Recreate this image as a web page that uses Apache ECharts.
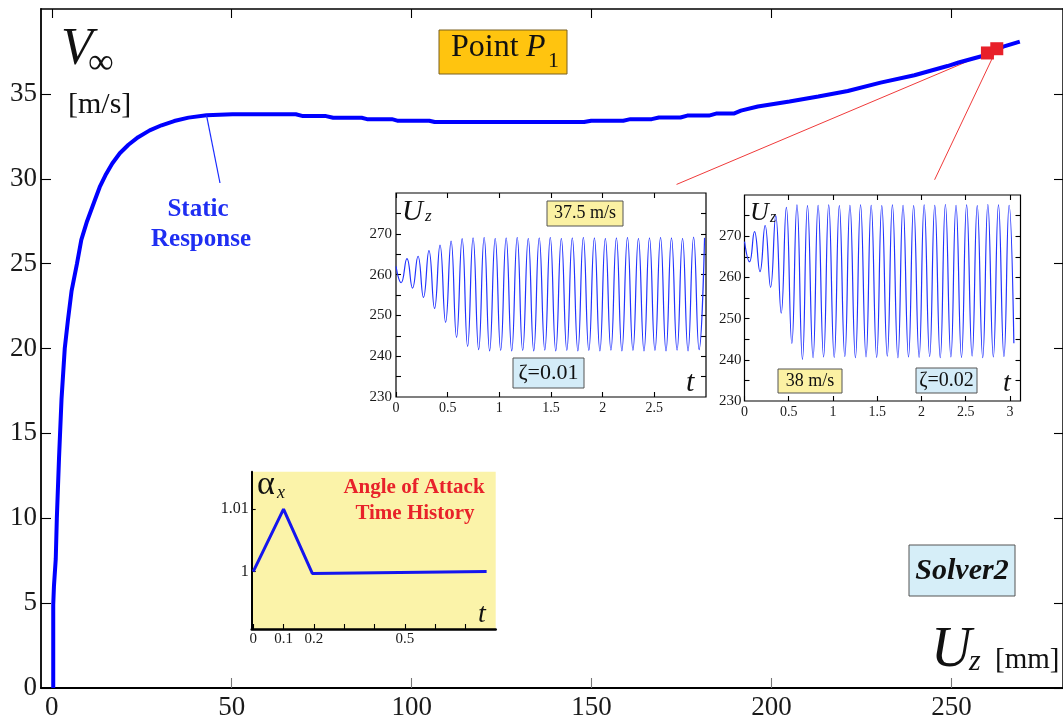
<!DOCTYPE html>
<html>
<head>
<meta charset="utf-8">
<script src="https://cdn.jsdelivr.net/npm/echarts@6/dist/echarts.min.js"></script>
<style>
  html, body { margin: 0; padding: 0; background: #fff; }
  #chart { width: 1063px; height: 721px; }
</style>
</head>
<body>
<div id="chart"></div>
<script>
// ---- Static response: free-stream speed vs. tip displacement ----
const uzMain = [0.4, 0.4, 0.6, 1.1, 1.4, 2.0, 2.7, 3.6, 4.5, 5.5, 7.0, 8.2, 9.8, 11.9, 13.3, 14.9, 16.8, 18.9, 21.3, 24.0,
  27.2, 30.5, 34.0, 38.0, 43.0, 50.2,
  67.8, 69.8, 76.2, 78.2, 86.1, 87.6, 94.5, 96.0, 104.9, 106.4, 147.9, 149.9, 158.8, 160.8, 166.7, 168.7, 174.7, 176.6,
  182.6, 184.6, 189.5, 191.5, 196.2, 205.0, 213.0, 221.2, 230.3, 239.7, 248.9, 252.0, 258.1, 264.4, 269.0];
const vMain = [0, 4.9, 6.0, 7.6, 10.0, 13.5, 17.0, 20.0, 21.7, 23.4, 25.0, 26.4, 27.5, 28.7, 29.5, 30.2, 30.9, 31.5, 32.0, 32.45,
  32.85, 33.15, 33.4, 33.6, 33.74, 33.8,
  33.8, 33.69, 33.69, 33.59, 33.59, 33.51, 33.51, 33.42, 33.42, 33.34, 33.34, 33.42, 33.42, 33.51, 33.51, 33.61, 33.61, 33.72,
  33.72, 33.84, 33.84, 34.01, 34.26, 34.55, 34.85, 35.17, 35.66, 36.1, 36.64, 36.85, 37.2, 37.78, 38.08];

// Point P1 samples (37.5 m/s and 38 m/s)
const markerUz = [260.0, 262.6];
const markerV = [37.41, 37.66];

const uzTicks = [0, 50, 100, 150, 200, 250];
const vTicks = [0, 5, 10, 15, 20, 25, 30, 35];

// ---- Dynamic response, 37.5 m/s, zeta = 0.01 (successive extrema) ----
const tDynA = [0, 0.050, 0.106, 0.160, 0.213, 0.266, 0.319, 0.373, 0.426, 0.480, 0.533, 0.586, 0.640, 0.693, 0.746, 0.800,
  0.853, 0.906, 0.960, 1.013, 1.066, 1.120, 1.173, 1.226, 1.280, 1.333, 1.386, 1.440, 1.493, 1.546, 1.600, 1.653, 1.706,
  1.760, 1.813, 1.866, 1.920, 1.973, 2.026, 2.080, 2.133, 2.186, 2.240, 2.293, 2.346, 2.400, 2.453, 2.506, 2.560, 2.613,
  2.666, 2.720, 2.773, 2.826, 2.880, 2.933, 2.986];
const uzDynA = [262.0, 258.0, 263.9, 256.7, 264.5, 254.4, 265.9, 251.7, 267.2, 248.3, 268.2, 244.6, 268.8, 242.4, 269.0, 241.6,
  269.1, 241.3, 268.9, 241.4, 269.0, 241.3, 269.1, 241.4, 268.9, 241.3, 269.0, 241.5, 269.1, 241.3, 268.9, 241.4, 269.0,
  241.3, 269.1, 241.4, 269.0, 241.3, 268.9, 241.5, 269.0, 241.3, 269.1, 241.4, 268.9, 241.3, 269.0, 241.4, 269.1, 241.3,
  269.0, 241.5, 268.9, 241.3, 269.2, 241.6, 269.0];

// ---- Dynamic response, 38 m/s, zeta = 0.02 (successive extrema) ----
const tDynB = [0, 0.057, 0.113, 0.175, 0.233, 0.295, 0.353, 0.415, 0.473, 0.535, 0.593, 0.655, 0.712, 0.775, 0.832, 0.894,
  0.952, 1.014, 1.072, 1.134, 1.192, 1.254, 1.312, 1.374, 1.432, 1.494, 1.552, 1.614, 1.672, 1.734, 1.792, 1.854, 1.912,
  1.974, 2.031, 2.093, 2.151, 2.213, 2.271, 2.333, 2.391, 2.453, 2.511, 2.573, 2.631, 2.693, 2.751, 2.813, 2.871, 2.933,
  2.991, 3.045];
const uzDynB = [268.7, 263.8, 271.1, 261.4, 272.6, 257.6, 275.0, 251.3, 277.0, 244.0, 277.6, 240.1, 277.4, 240.5, 277.5, 240.7,
  277.6, 240.6, 277.4, 240.8, 277.5, 240.5, 277.6, 240.7, 277.5, 240.6, 277.4, 240.9, 277.6, 240.5, 277.5, 240.7, 277.4,
  240.6, 277.6, 240.8, 277.5, 240.5, 277.7, 240.7, 277.5, 240.6, 277.6, 240.9, 277.4, 240.5, 277.7, 240.7, 277.6, 240.8,
  277.5, 244.0];

const dynYTicks = [235, 240, 245, 250, 255, 260, 265, 270, 275];
const dynYLabels = [230, 240, 250, 260, 270];
const dynXLabelsA = [0, 0.5, 1, 1.5, 2, 2.5];
const dynXLabelsB = [0, 0.5, 1, 1.5, 2, 2.5, 3];

// ---- Angle of attack time history ----
const tAlpha = [0, 0.1, 0.195, 0.77];
const alphaX = [1.0, 1.01, 0.9997, 1.0];
const alphaTTicks = [0, 0.1, 0.2, 0.3, 0.4, 0.5, 0.6, 0.7];
const alphaTLabels = [0, 0.1, 0.2, 0.5];
const alphaYLabels = [1, 1.01];

const SERIF = '"Liberation Serif", "DejaVu Serif", serif';
const zip = (a, b) => a.map((v, i) => [v, b[i]]);

function frameAxis(gridIndex, position, min, max, ticks, tickLen, tickColor, labels, labelSize, margin, lineWidth) {
  return {
    gridIndex, type: 'value', min, max, position,
    axisLine: { show: lineWidth > 0, onZero: false, lineStyle: { color: '#000', width: lineWidth || 1 } },
    axisTick: { show: true, inside: true, length: tickLen, customValues: ticks, lineStyle: { color: tickColor, width: 1.1 } },
    axisLabel: labels
      ? { show: true, customValues: labels, fontSize: labelSize, fontFamily: SERIF, color: '#1a1a1a', margin }
      : { show: false },
    splitLine: { show: false }
  };
}

function txt(x, y, text, font, fill, align) {
  return { type: 'text', x, y, z: 20, silent: true,
    style: { text, font, fill: fill || '#111', align: align || 'left', verticalAlign: 'middle' } };
}
function box(x, y, w, h, fill, stroke) {
  return { type: 'rect', z: 15, silent: true, shape: { x, y, width: w, height: h },
    style: { fill, stroke: stroke || '#555', lineWidth: 1 } };
}

const annotations = [
  // vertical axis title
  txt(61, 50, 'V', 'italic 52px ' + SERIF),
  txt(88, 64, '\u221E', '36px ' + SERIF),
  txt(68, 105, '[m/s]', '30px ' + SERIF),
  // horizontal axis title
  txt(931, 651, 'U', 'italic 56px ' + SERIF),
  txt(969, 662, 'z', 'italic 30px ' + SERIF),
  txt(995, 660, '[mm]', '29px ' + SERIF),
  // Point P1 tag
  box(439, 30, 128, 44, '#FFC40F', '#7a6020'),
  txt(451, 48, 'Point', '32px ' + SERIF),
  txt(526, 48, 'P', 'italic 32px ' + SERIF),
  txt(548, 61, '1', '22px ' + SERIF),
  // Static response label
  txt(198, 210, 'Static', 'bold 25px ' + SERIF, '#1F2EF2', 'center'),
  txt(201, 240, 'Response', 'bold 25px ' + SERIF, '#1F2EF2', 'center'),
  // Solver tag
  box(909, 545, 106, 51, '#D6EEF8', '#555'),
  txt(962, 571, 'Solver2', 'bold italic 30px ' + SERIF, '#111', 'center'),
  // inset A labels
  txt(402, 212, 'U', 'italic 29px ' + SERIF),
  txt(425, 217, 'z', 'italic 17px ' + SERIF),
  box(547, 201, 76, 25, '#FBF1A3', '#555'),
  txt(585, 213.5, '37.5 m/s', '18px ' + SERIF, '#111', 'center'),
  box(513, 358, 71, 30, '#D4ECF8', '#555'),
  txt(548.5, 373, '\u03B6=0.01', '22px ' + SERIF, '#111', 'center'),
  txt(686, 383, 't', 'italic 30px ' + SERIF),
  // inset B labels
  txt(750, 213.5, 'U', 'italic 26px ' + SERIF),
  txt(770, 218, 'z', 'italic 16px ' + SERIF),
  box(778, 369, 64, 24, '#FBF1A3', '#555'),
  txt(810, 381, '38 m/s', '18px ' + SERIF, '#111', 'center'),
  box(916, 368, 61, 25, '#D4ECF8', '#555'),
  txt(946.5, 380.5, '\u03B6=0.02', '20px ' + SERIF, '#111', 'center'),
  txt(1003, 384, 't', 'italic 28px ' + SERIF),
  // angle of attack labels
  txt(257, 485, '\u03B1', '34px ' + SERIF),
  txt(277, 493, 'x', 'italic 18px ' + SERIF),
  txt(414, 488, 'Angle of Attack', 'bold 21px ' + SERIF, '#E8222A', 'center'),
  txt(415, 514, 'Time History', 'bold 21px ' + SERIF, '#E8222A', 'center'),
  txt(478, 615, 't', 'italic 28px ' + SERIF)
];

const option = {
  animation: false,
  backgroundColor: '#fff',
  textStyle: { fontFamily: SERIF },
  grid: [
    { left: 41, top: 9, width: 1025, height: 680, show: false },
    { left: 396, top: 193, width: 310, height: 204, show: true, backgroundColor: '#fff', borderColor: '#000', borderWidth: 1.2 },
    { left: 744.5, top: 195, width: 276, height: 206, show: true, backgroundColor: '#fff', borderColor: '#000', borderWidth: 1.2 },
    { left: 251.7, top: 471.7, width: 244, height: 157.3, show: true, backgroundColor: '#FBF3A9', borderWidth: 0 }
  ],
  xAxis: [
    frameAxis(0, 'bottom', -3, 281, uzTicks, 10, '#777', uzTicks, 27, 6, 2),
    frameAxis(0, 'top', -3, 281, uzTicks, 9, '#000', null, 0, 0, 1.5),
    frameAxis(1, 'bottom', 0, 3, dynXLabelsA, 5, '#000', dynXLabelsA, 14, 4, 0),
    frameAxis(1, 'top', 0, 3, dynXLabelsA, 5, '#000', null, 0, 0, 0),
    frameAxis(2, 'bottom', 0, 3.12, dynXLabelsB, 5, '#000', dynXLabelsB, 14, 4, 0),
    frameAxis(2, 'top', 0, 3.12, dynXLabelsB, 5, '#000', null, 0, 0, 0),
    frameAxis(3, 'bottom', -0.005, 0.8, alphaTTicks, 5, '#000', alphaTLabels, 15, 3, 2.5)
  ],
  yAxis: [
    frameAxis(0, 'left', 0, 40, vTicks, 10, '#000', vTicks, 27, 4, 1.8),
    frameAxis(0, 'right', 0, 40, vTicks, 9, '#000', null, 0, 0, 1.5),
    frameAxis(1, 'left', 230, 280, dynYTicks, 5, '#000', dynYLabels, 15, 4, 0),
    frameAxis(1, 'right', 230, 280, dynYTicks, 5, '#000', null, 0, 0, 0),
    frameAxis(2, 'left', 230, 280, dynYTicks, 5, '#000', dynYLabels, 15, 3, 0),
    frameAxis(2, 'right', 230, 280, dynYTicks, 5, '#000', null, 0, 0, 0),
    frameAxis(3, 'left', 0.9908, 1.016, alphaYLabels, 4, '#000', alphaYLabels, 16, 3, 2)
  ],
  series: [
    { type: 'line', xAxisIndex: 0, yAxisIndex: 0, data: zip(uzMain, vMain), showSymbol: false, z: 3,
      lineStyle: { color: '#0000FF', width: 4 } },
    { type: 'scatter', xAxisIndex: 0, yAxisIndex: 0, data: zip(markerUz, markerV), symbol: 'rect', symbolSize: 13, z: 6,
      itemStyle: { color: '#E8202A', opacity: 1 } },
    { type: 'line', xAxisIndex: 2, yAxisIndex: 2, data: zip(tDynA, uzDynA), smooth: 0.5, showSymbol: false, z: 3,
      lineStyle: { color: '#2233FF', width: 1.2 } },
    { type: 'line', xAxisIndex: 4, yAxisIndex: 4, data: zip(tDynB, uzDynB), smooth: 0.5, showSymbol: false, z: 3,
      lineStyle: { color: '#2233FF', width: 1.2 } },
    { type: 'line', xAxisIndex: 6, yAxisIndex: 6, data: zip(tAlpha, alphaX), showSymbol: false, z: 3,
      lineStyle: { color: '#1515EE', width: 3 } }
  ],
  graphic: { elements: annotations.slice() }
};

const chart = echarts.init(document.getElementById('chart'), null, { renderer: 'canvas' });
chart.setOption(option);

// Leader lines: from the P1 samples to the response panels, and from the curve to its label
const m1 = chart.convertToPixel({ xAxisIndex: 0, yAxisIndex: 0 }, [markerUz[0], markerV[0]]);
const m2 = chart.convertToPixel({ xAxisIndex: 0, yAxisIndex: 0 }, [markerUz[1], markerV[1]]);
const endA = chart.convertToPixel({ xAxisIndex: 2, yAxisIndex: 2 }, [2.715, 282.1]);
const endB = chart.convertToPixel({ xAxisIndex: 4, yAxisIndex: 4 }, [2.149, 283.7]);
const curveAnchor = chart.convertToPixel({ xAxisIndex: 0, yAxisIndex: 0 }, [uzMain[24], vMain[24]]);

const leaders = [
  { type: 'line', z: 1, silent: true, shape: { x1: m1[0], y1: m1[1], x2: endA[0], y2: endA[1] },
    style: { stroke: '#F03A3A', lineWidth: 1 } },
  { type: 'line', z: 1, silent: true, shape: { x1: m2[0], y1: m2[1], x2: endB[0], y2: endB[1] },
    style: { stroke: '#F03A3A', lineWidth: 1 } },
  { type: 'line', z: 10, silent: true, shape: { x1: curveAnchor[0], y1: curveAnchor[1], x2: 220, y2: 183 },
    style: { stroke: '#1A2BFF', lineWidth: 1.2 } }
];
option.graphic = { elements: annotations.concat(leaders) };
chart.setOption(option, true);
</script>
</body>
</html>
